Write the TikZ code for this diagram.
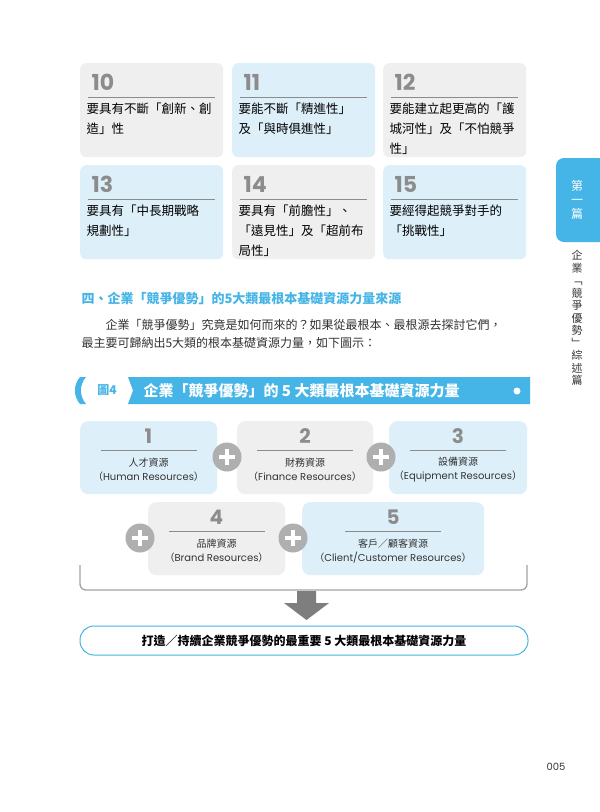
\documentclass[tikz,border=0pt]{standalone}
\usepackage{fontspec}
\setmainfont{Noto Sans CJK TC}
\newfontfamily\cjk{Noto Sans CJK TC}
\newfontfamily\latinf{Poppins}
\usetikzlibrary{positioning,calc}
\definecolor{tabblue}{HTML}{45B4E6}
\definecolor{cardblue}{HTML}{DDF0FA}
\definecolor{cardgray}{HTML}{EFEFEF}
\definecolor{numgray}{HTML}{8C8C8C}
\definecolor{txtgray}{HTML}{333333}
\tikzset{
  card/.style={rounded corners=6pt, minimum width=143pt, minimum height=94pt, inner sep=0pt},
  res/.style={rounded corners=8pt, inner sep=0pt, minimum height=73pt},
  num/.style={font=\latinf\bfseries\fontsize{22}{22}\selectfont, text=numgray, anchor=west},
  cardtxt/.style={font=\fontsize{12.5}{20}\selectfont, text=black, align=left, anchor=north west, text width=136pt},
  plus/.style={circle, fill=numgray!70, minimum size=29pt, inner sep=0pt},
  restxt/.style={font=\fontsize{10}{14}\selectfont, align=center, text=txtgray}
}
\newcommand{\plussign}[1]{%
  \node[plus] (#1) at (#1pos) {};
  \fill[white] ($(#1)+(-8pt,-2.2pt)$) rectangle ($(#1)+(8pt,2.2pt)$);
  \fill[white] ($(#1)+(-2.2pt,-8pt)$) rectangle ($(#1)+(2.2pt,8pt)$);}
\begin{document}
\begin{tikzpicture}[x=1pt,y=-1pt]
\useasboundingbox[fill=white] (0,0) rectangle (600,812);
% top cards
\foreach \n/\x/\y/\c/\t in {
  10/80/63/cardgray/{要具有不斷「創新、創\\造」性},
  11/232/63/cardblue/{要能不斷「精進性」\\及「與時俱進性」},
  12/383/63/cardgray/{要能建立起更高的「護\\城河性」及「不怕競爭\\性」},
  13/80/165/cardblue/{要具有「中長期戰略\\規劃性」},
  14/232/165/cardgray/{要具有「前膽性」、\\「遠見性」及「超前布\\局性」},
  15/383/165/cardblue/{要經得起競爭對手的\\「挑戰性」}}{
  \node[card, fill=\c, anchor=north west] (card\n) at (\x,\y) {};
  \node[num] (num\n) at (\x+8,\y+19) {\n};
  \draw[numgray, line width=0.8pt] (\x+8,\y+34) -- (\x+135,\y+34);
  \node[cardtxt] (txt\n) at (\x+3,\y+36) {\t};
}
% side tab
\fill[tabblue, rounded corners=8pt] (556,158) rectangle (610,242);
\node[text=white, font=\fontsize{12}{14}\selectfont, align=center] (tab) at (577,200) {第\\一\\篇};
\node[text=txtgray, font=\fontsize{11}{12.5}\selectfont, align=center] (side) at (577,318)
  {企\\業\\﹁\\競\\爭\\優\\勢\\﹂\\綜\\述\\篇};
% heading and paragraph
\node[anchor=west, text=tabblue, font=\bfseries\fontsize{13}{15}\selectfont] (head) at (78,299) {四、企業「競爭優勢」的5大類最根本基礎資源力量來源};
\node[anchor=west, text=txtgray, font=\fontsize{12}{18}\selectfont, align=left] (para) at (78,334)
  {\hspace{2em}企業「競爭優勢」究竟是如何而來的？如果從最根本、最根源去探討它們，\\最主要可歸納出5大類的根本基礎資源力量，如下圖示：};
% figure header
\fill[tabblue] (128,377) -- (530,377) -- (530,404) -- (128,404) -- (133,390.5) -- cycle;
\fill[tabblue] (86,377) to[bend right=40] (86,404) -- (80,404) to[bend left=40] (80,377) -- cycle;
\node[text=tabblue, font=\bfseries\fontsize{12}{12}\selectfont] (figno) at (107,390.5) {圖4};
\node[anchor=west, text=white, font=\bfseries\fontsize{15}{15}\selectfont] (figtitle) at (140,390.5) {企業「競爭優勢」的 5 大類最根本基礎資源力量};
\fill[white] (517,391) circle (3.5pt);
% resource boxes
\foreach \n/\x/\w/\y/\c/\a/\b in {
  1/80/137/421/cardblue/人才資源/{Human Resources},
  2/237/136/421/cardgray/財務資源/{Finance Resources},
  3/389/138/421/cardblue/設備資源/{Equipment Resources},
  4/148/137/502/cardgray/品牌資源/{Brand Resources},
  5/302/182/502/cardblue/客戶／顧客資源/{Client/Customer Resources}}{
  \node[res, fill=\c, minimum width=\w pt, anchor=north west] (res\n) at (\x,\y) {};
  \node[font=\latinf\bfseries\fontsize{20}{20}\selectfont, text=numgray] (rnum\n) at (\x+\w/2,\y+15) {\n};
  \draw[numgray, line width=0.7pt] (\x+\w/2-48,\y+29) -- (\x+\w/2+48,\y+29);
  \node[restxt] (rtxt\n) at (\x+\w/2,\y+49) {\a\\（{\latinf\b}）};
}
\coordinate (p1pos) at (227,457);
\coordinate (p2pos) at (381,457);
\coordinate (p3pos) at (140,538);
\coordinate (p4pos) at (293,538);
\plussign{p1}\plussign{p2}\plussign{p3}\plussign{p4}
% bracket and arrow
\draw[numgray!80, line width=1.3pt, rounded corners=6pt] (80,565) -- (80,590) -- (527,590) -- (527,565);
\fill[numgray!90!black] (297,591) -- (316,591) -- (316,603) -- (329,603) -- (306.5,620) -- (284,603) -- (297,603) -- cycle;
\node[draw=tabblue, line width=1pt, rounded corners=14pt, minimum width=448pt, minimum height=29pt,
  font=\bfseries\fontsize{12}{12}\selectfont] (result) at (304,640.5) {打造／持續企業競爭優勢的最重要 5 大類最根本基礎資源力量};
% page number
\node[text=txtgray, font=\latinf\fontsize{10}{10}\selectfont] (page) at (556,767) {005};
\end{tikzpicture}
\end{document}
